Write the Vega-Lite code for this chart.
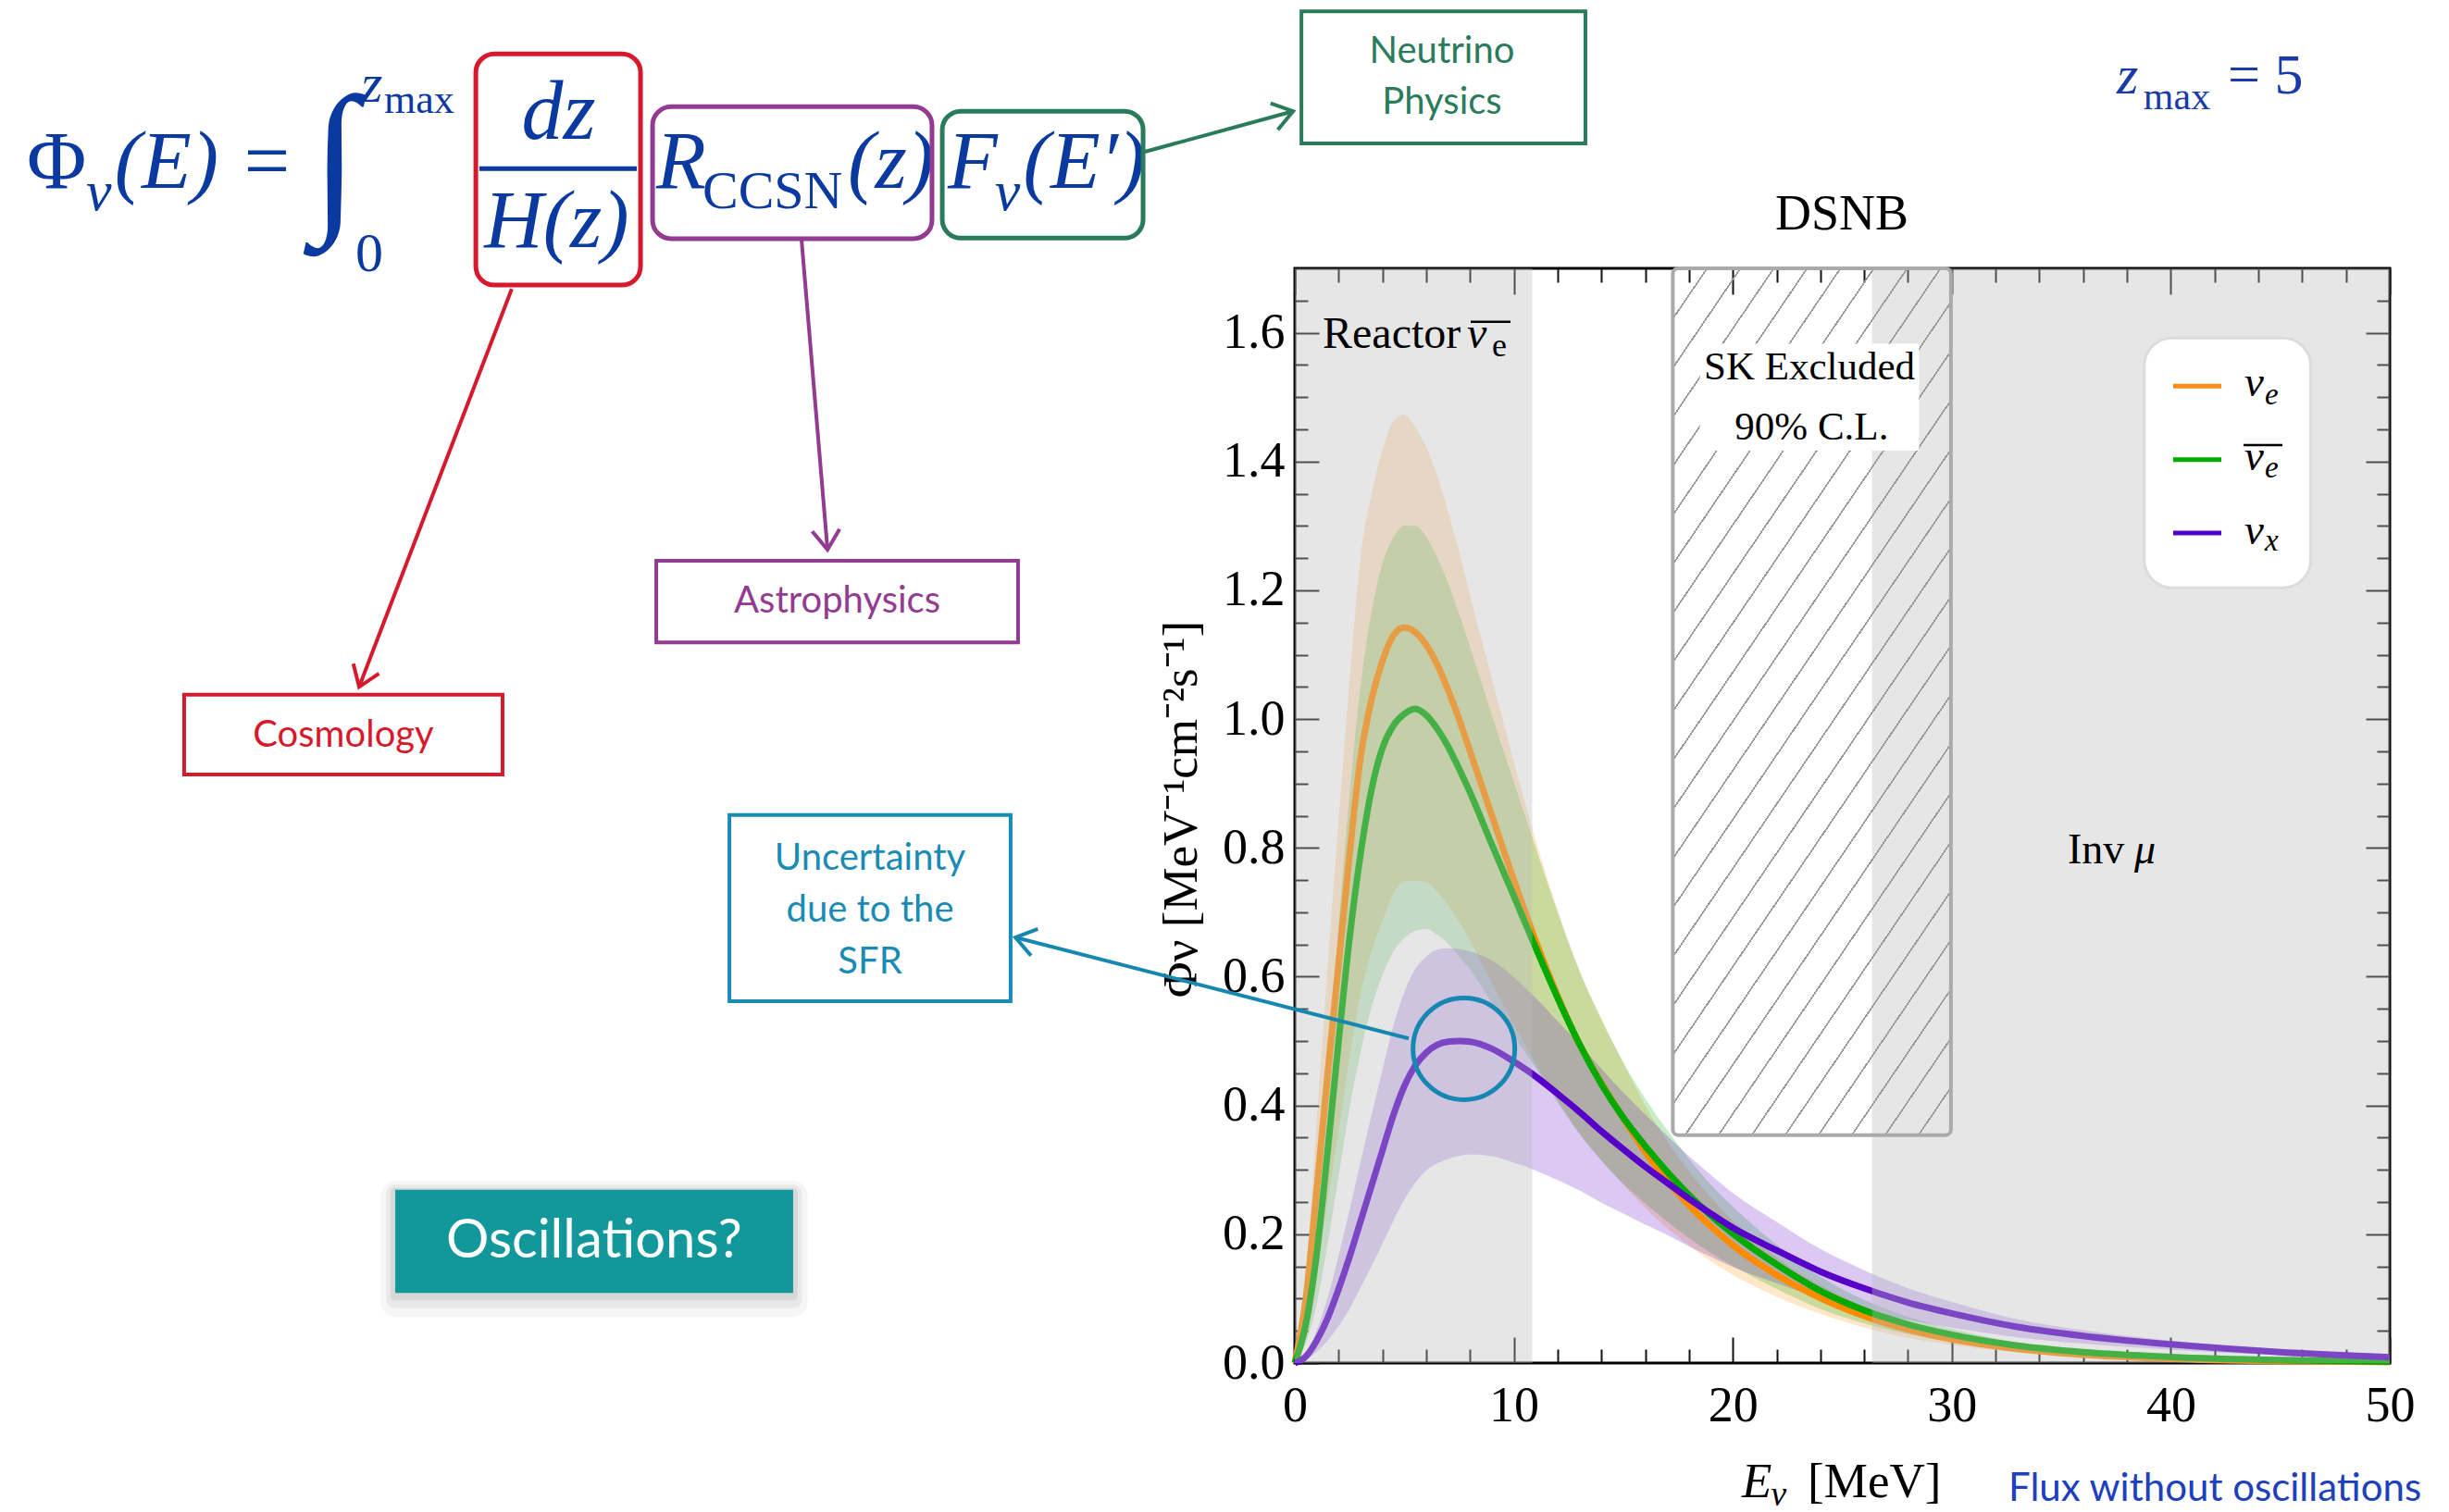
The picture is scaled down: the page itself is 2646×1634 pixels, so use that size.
{
  "$schema": "https://vega.github.io/schema/vega-lite/v6.json",
  "width": 1183,
  "height": 1183,
  "autosize": {"type": "none"},
  "padding": {"left": 1399, "top": 290, "right": 64, "bottom": 161},
  "background": "white",
  "data": {"values": [{}]},
  "config": {
    "view": {"stroke": "#000", "strokeWidth": 3},
    "axis": {"domain": false, "grid": false, "tickColor": "#111", "tickWidth": 2, "labelFont": "Liberation Serif", "labelFontSize": 54, "labelColor": "#000", "labelFlush": false, "labelOverlap": false}
  },
  "resolve": {"axis": {"x": "independent", "y": "independent"}},
  "datasets": {
    "curves": [
      {"E":0,"species":"nu_e","flux":0,"lo":0,"hi":0},
      {"E":0.5,"species":"nu_e","flux":0.10,"lo":0.052,"hi":0.14},
      {"E":1,"species":"nu_e","flux":0.27,"lo":0.146,"hi":0.375},
      {"E":1.5,"species":"nu_e","flux":0.45,"lo":0.252,"hi":0.617},
      {"E":2,"species":"nu_e","flux":0.62,"lo":0.360,"hi":0.843},
      {"E":2.5,"species":"nu_e","flux":0.79,"lo":0.474,"hi":1.059},
      {"E":3,"species":"nu_e","flux":0.94,"lo":0.573,"hi":1.250},
      {"E":3.5,"species":"nu_e","flux":1.03,"lo":0.639,"hi":1.349},
      {"E":4,"species":"nu_e","flux":1.09,"lo":0.687,"hi":1.417},
      {"E":4.5,"species":"nu_e","flux":1.13,"lo":0.729,"hi":1.463},
      {"E":5,"species":"nu_e","flux":1.142,"lo":0.748,"hi":1.473},
      {"E":5.5,"species":"nu_e","flux":1.135,"lo":0.749,"hi":1.453},
      {"E":6,"species":"nu_e","flux":1.115,"lo":0.747,"hi":1.422},
      {"E":6.5,"species":"nu_e","flux":1.085,"lo":0.732,"hi":1.378},
      {"E":7,"species":"nu_e","flux":1.045,"lo":0.711,"hi":1.322},
      {"E":7.5,"species":"nu_e","flux":1.0,"lo":0.685,"hi":1.260},
      {"E":8,"species":"nu_e","flux":0.95,"lo":0.656,"hi":1.192},
      {"E":9,"species":"nu_e","flux":0.85,"lo":0.591,"hi":1.063},
      {"E":10,"species":"nu_e","flux":0.75,"lo":0.525,"hi":0.934},
      {"E":11,"species":"nu_e","flux":0.655,"lo":0.465,"hi":0.812},
      {"E":12,"species":"nu_e","flux":0.57,"lo":0.408,"hi":0.704},
      {"E":13,"species":"nu_e","flux":0.495,"lo":0.356,"hi":0.609},
      {"E":14,"species":"nu_e","flux":0.435,"lo":0.315,"hi":0.535},
      {"E":15,"species":"nu_e","flux":0.38,"lo":0.277,"hi":0.466},
      {"E":16,"species":"nu_e","flux":0.328,"lo":0.241,"hi":0.400},
      {"E":17,"species":"nu_e","flux":0.283,"lo":0.209,"hi":0.345},
      {"E":18,"species":"nu_e","flux":0.245,"lo":0.183,"hi":0.298},
      {"E":19,"species":"nu_e","flux":0.212,"lo":0.158,"hi":0.257},
      {"E":20,"species":"nu_e","flux":0.183,"lo":0.137,"hi":0.221},
      {"E":22,"species":"nu_e","flux":0.137,"lo":0.103,"hi":0.164},
      {"E":24,"species":"nu_e","flux":0.101,"lo":0.076,"hi":0.121},
      {"E":26,"species":"nu_e","flux":0.073,"lo":0.055,"hi":0.088},
      {"E":28,"species":"nu_e","flux":0.052,"lo":0.039,"hi":0.062},
      {"E":30,"species":"nu_e","flux":0.037,"lo":0.028,"hi":0.044},
      {"E":33,"species":"nu_e","flux":0.022,"lo":0.0165,"hi":0.026},
      {"E":36,"species":"nu_e","flux":0.013,"lo":0.0098,"hi":0.0156},
      {"E":40,"species":"nu_e","flux":0.0065,"lo":0.0049,"hi":0.0078},
      {"E":45,"species":"nu_e","flux":0.003,"lo":0.0023,"hi":0.0036},
      {"E":50,"species":"nu_e","flux":0.0015,"lo":0.0011,"hi":0.0018},
      {"E":0,"species":"nubar_e","flux":0,"lo":0,"hi":0},
      {"E":0.5,"species":"nubar_e","flux":0.06,"lo":0.031,"hi":0.084},
      {"E":1,"species":"nubar_e","flux":0.17,"lo":0.092,"hi":0.236},
      {"E":1.5,"species":"nubar_e","flux":0.33,"lo":0.185,"hi":0.452},
      {"E":2,"species":"nubar_e","flux":0.50,"lo":0.290,"hi":0.680},
      {"E":2.5,"species":"nubar_e","flux":0.66,"lo":0.396,"hi":0.884},
      {"E":3,"species":"nubar_e","flux":0.79,"lo":0.482,"hi":1.051},
      {"E":3.5,"species":"nubar_e","flux":0.89,"lo":0.552,"hi":1.166},
      {"E":4,"species":"nubar_e","flux":0.955,"lo":0.602,"hi":1.242},
      {"E":4.5,"species":"nubar_e","flux":0.99,"lo":0.639,"hi":1.282},
      {"E":5,"species":"nubar_e","flux":1.008,"lo":0.660,"hi":1.300},
      {"E":5.5,"species":"nubar_e","flux":1.016,"lo":0.671,"hi":1.300},
      {"E":6,"species":"nubar_e","flux":1.006,"lo":0.674,"hi":1.283},
      {"E":6.5,"species":"nubar_e","flux":0.985,"lo":0.665,"hi":1.251},
      {"E":7,"species":"nubar_e","flux":0.957,"lo":0.651,"hi":1.211},
      {"E":7.5,"species":"nubar_e","flux":0.923,"lo":0.632,"hi":1.163},
      {"E":8,"species":"nubar_e","flux":0.886,"lo":0.611,"hi":1.112},
      {"E":9,"species":"nubar_e","flux":0.805,"lo":0.559,"hi":1.006},
      {"E":10,"species":"nubar_e","flux":0.725,"lo":0.508,"hi":0.903},
      {"E":11,"species":"nubar_e","flux":0.645,"lo":0.458,"hi":0.800},
      {"E":12,"species":"nubar_e","flux":0.567,"lo":0.405,"hi":0.700},
      {"E":13,"species":"nubar_e","flux":0.495,"lo":0.356,"hi":0.609},
      {"E":14,"species":"nubar_e","flux":0.433,"lo":0.314,"hi":0.533},
      {"E":15,"species":"nubar_e","flux":0.381,"lo":0.278,"hi":0.467},
      {"E":16,"species":"nubar_e","flux":0.337,"lo":0.248,"hi":0.411},
      {"E":17,"species":"nubar_e","flux":0.297,"lo":0.220,"hi":0.362},
      {"E":18,"species":"nubar_e","flux":0.261,"lo":0.194,"hi":0.317},
      {"E":19,"species":"nubar_e","flux":0.229,"lo":0.171,"hi":0.277},
      {"E":20,"species":"nubar_e","flux":0.201,"lo":0.151,"hi":0.243},
      {"E":22,"species":"nubar_e","flux":0.153,"lo":0.115,"hi":0.184},
      {"E":24,"species":"nubar_e","flux":0.112,"lo":0.084,"hi":0.134},
      {"E":26,"species":"nubar_e","flux":0.082,"lo":0.0615,"hi":0.098},
      {"E":28,"species":"nubar_e","flux":0.060,"lo":0.045,"hi":0.072},
      {"E":30,"species":"nubar_e","flux":0.044,"lo":0.033,"hi":0.053},
      {"E":33,"species":"nubar_e","flux":0.027,"lo":0.020,"hi":0.032},
      {"E":36,"species":"nubar_e","flux":0.017,"lo":0.0128,"hi":0.020},
      {"E":40,"species":"nubar_e","flux":0.0095,"lo":0.0071,"hi":0.0114},
      {"E":45,"species":"nubar_e","flux":0.0045,"lo":0.0034,"hi":0.0054},
      {"E":50,"species":"nubar_e","flux":0.002,"lo":0.0015,"hi":0.0024},
      {"E":0,"species":"nu_x","flux":0,"lo":0,"hi":0},
      {"E":0.5,"species":"nu_x","flux":0.01,"lo":0.005,"hi":0.0145},
      {"E":1,"species":"nu_x","flux":0.035,"lo":0.0175,"hi":0.051},
      {"E":1.5,"species":"nu_x","flux":0.07,"lo":0.035,"hi":0.1015},
      {"E":2,"species":"nu_x","flux":0.115,"lo":0.0575,"hi":0.167},
      {"E":2.5,"species":"nu_x","flux":0.165,"lo":0.084,"hi":0.238},
      {"E":3,"species":"nu_x","flux":0.22,"lo":0.117,"hi":0.312},
      {"E":3.5,"species":"nu_x","flux":0.275,"lo":0.150,"hi":0.385},
      {"E":4,"species":"nu_x","flux":0.33,"lo":0.185,"hi":0.455},
      {"E":4.5,"species":"nu_x","flux":0.385,"lo":0.221,"hi":0.524},
      {"E":5,"species":"nu_x","flux":0.43,"lo":0.254,"hi":0.576},
      {"E":5.5,"species":"nu_x","flux":0.462,"lo":0.280,"hi":0.612},
      {"E":6,"species":"nu_x","flux":0.482,"lo":0.299,"hi":0.631},
      {"E":6.5,"species":"nu_x","flux":0.494,"lo":0.310,"hi":0.642},
      {"E":7,"species":"nu_x","flux":0.499,"lo":0.317,"hi":0.644},
      {"E":7.5,"species":"nu_x","flux":0.500,"lo":0.3215,"hi":0.643},
      {"E":8,"species":"nu_x","flux":0.499,"lo":0.324,"hi":0.639},
      {"E":9,"species":"nu_x","flux":0.488,"lo":0.321,"hi":0.625},
      {"E":10,"species":"nu_x","flux":0.468,"lo":0.311,"hi":0.599},
      {"E":11,"species":"nu_x","flux":0.445,"lo":0.299,"hi":0.567},
      {"E":12,"species":"nu_x","flux":0.418,"lo":0.284,"hi":0.531},
      {"E":13,"species":"nu_x","flux":0.39,"lo":0.268,"hi":0.495},
      {"E":14,"species":"nu_x","flux":0.36,"lo":0.249,"hi":0.457},
      {"E":15,"species":"nu_x","flux":0.332,"lo":0.232,"hi":0.420},
      {"E":16,"species":"nu_x","flux":0.305,"lo":0.215,"hi":0.386},
      {"E":17,"species":"nu_x","flux":0.28,"lo":0.199,"hi":0.353},
      {"E":18,"species":"nu_x","flux":0.255,"lo":0.181,"hi":0.321},
      {"E":19,"species":"nu_x","flux":0.232,"lo":0.165,"hi":0.292},
      {"E":20,"species":"nu_x","flux":0.21,"lo":0.149,"hi":0.264},
      {"E":22,"species":"nu_x","flux":0.175,"lo":0.124,"hi":0.219},
      {"E":24,"species":"nu_x","flux":0.142,"lo":0.101,"hi":0.177},
      {"E":26,"species":"nu_x","flux":0.116,"lo":0.082,"hi":0.144},
      {"E":28,"species":"nu_x","flux":0.094,"lo":0.067,"hi":0.116},
      {"E":30,"species":"nu_x","flux":0.077,"lo":0.055,"hi":0.095},
      {"E":33,"species":"nu_x","flux":0.056,"lo":0.040,"hi":0.068},
      {"E":36,"species":"nu_x","flux":0.042,"lo":0.030,"hi":0.051},
      {"E":40,"species":"nu_x","flux":0.029,"lo":0.0206,"hi":0.035},
      {"E":45,"species":"nu_x","flux":0.017,"lo":0.0121,"hi":0.0204},
      {"E":50,"species":"nu_x","flux":0.009,"lo":0.0064,"hi":0.0108}
    ],
    "regions": [
      {"name": "Reactor", "start": 0, "end": 10.84},
      {"name": "Inv mu", "start": 26.36, "end": 50}
    ],
    "sk": [
      {"name": "SK Excluded", "start": 17.26, "end": 29.96, "lower": 0.354}
    ]
  },
  "layer": [
    {
      "data": {"name": "curves"},
      "mark": {"type": "area", "interpolate": "monotone", "opacity": 0.21},
      "encoding": {
        "x": {"field": "E", "type": "quantitative", "scale": {"domain": [0, 50], "nice": false, "zero": false},
              "axis": {"orient": "bottom", "values": [0, 10, 20, 30, 40, 50], "format": "d", "tickSize": -28, "labelPadding": 47, "title": null}},
        "y": {"field": "hi", "type": "quantitative", "stack": null, "scale": {"domain": [0, 1.7], "nice": false, "zero": false},
              "axis": {"orient": "left", "values": [0, 0.2, 0.4, 0.6, 0.8, 1.0, 1.2, 1.4, 1.6], "format": ".1f", "tickSize": -26, "labelPadding": 37, "title": null}},
        "y2": {"field": "lo"},
        "color": {"field": "species", "type": "nominal", "scale": {"domain": ["nu_e", "nubar_e", "nu_x"], "range": ["#ff8c00", "#00aa00", "#5600c9"]}, "legend": null}
      }
    },
    {
      "data": {"name": "curves"},
      "mark": {"type": "line", "interpolate": "monotone", "strokeWidth": 7},
      "encoding": {
        "x": {"field": "E", "type": "quantitative", "scale": {"domain": [0, 50], "nice": false, "zero": false},
              "axis": {"orient": "top", "values": [0, 10, 20, 30, 40, 50], "tickSize": -28, "labels": false, "title": null}},
        "y": {"field": "flux", "type": "quantitative", "scale": {"domain": [0, 1.7], "nice": false, "zero": false},
              "axis": {"orient": "right", "values": [0, 0.2, 0.4, 0.6, 0.8, 1.0, 1.2, 1.4, 1.6], "tickSize": -26, "labels": false, "title": null}},
        "color": {"field": "species", "type": "nominal", "legend": null}
      }
    },
    {
      "data": {"name": "regions"},
      "mark": {"type": "rect", "fill": "#bbbbbb", "opacity": 0.37},
      "encoding": {
        "x": {"field": "start", "type": "quantitative",
              "axis": {"orient": "bottom", "values": [2, 4, 6, 8, 12, 14, 16, 18, 22, 24, 26, 28, 32, 34, 36, 38, 42, 44, 46, 48], "tickSize": -15, "labels": false, "title": null}},
        "x2": {"field": "end"},
        "y": {"datum": 0, "type": "quantitative",
              "axis": {"orient": "left", "values": [0.05, 0.1, 0.15, 0.25, 0.3, 0.35, 0.45, 0.5, 0.55, 0.65, 0.7, 0.75, 0.85, 0.9, 0.95, 1.05, 1.1, 1.15, 1.25, 1.3, 1.35, 1.45, 1.5, 1.55, 1.65], "tickSize": -14, "labels": false, "title": null}},
        "y2": {"datum": 1.7}
      }
    },
    {
      "data": {"name": "sk"},
      "mark": {"type": "rect", "stroke": "#aaaaaa", "strokeWidth": 4, "cornerRadius": 6,
        "fill": {"gradient": "linear", "x1": 0, "y1": 0, "x2": 0.5685, "y2": 1.2038, "stops": [
          {"offset": 0, "color": "#9a9a9a"}, {"offset": 0.0022, "color": "#9a9a9a"}, {"offset": 0.0022, "color": "rgba(255,255,255,0)"}, {"offset": 0.03846, "color": "rgba(255,255,255,0)"},
          {"offset": 0.03846, "color": "#9a9a9a"}, {"offset": 0.04066, "color": "#9a9a9a"}, {"offset": 0.04066, "color": "rgba(255,255,255,0)"}, {"offset": 0.07692, "color": "rgba(255,255,255,0)"},
          {"offset": 0.07692, "color": "#9a9a9a"}, {"offset": 0.07912, "color": "#9a9a9a"}, {"offset": 0.07912, "color": "rgba(255,255,255,0)"}, {"offset": 0.11538, "color": "rgba(255,255,255,0)"},
          {"offset": 0.11538, "color": "#9a9a9a"}, {"offset": 0.11758, "color": "#9a9a9a"}, {"offset": 0.11758, "color": "rgba(255,255,255,0)"}, {"offset": 0.15385, "color": "rgba(255,255,255,0)"},
          {"offset": 0.15385, "color": "#9a9a9a"}, {"offset": 0.15605, "color": "#9a9a9a"}, {"offset": 0.15605, "color": "rgba(255,255,255,0)"}, {"offset": 0.19231, "color": "rgba(255,255,255,0)"},
          {"offset": 0.19231, "color": "#9a9a9a"}, {"offset": 0.19451, "color": "#9a9a9a"}, {"offset": 0.19451, "color": "rgba(255,255,255,0)"}, {"offset": 0.23077, "color": "rgba(255,255,255,0)"},
          {"offset": 0.23077, "color": "#9a9a9a"}, {"offset": 0.23297, "color": "#9a9a9a"}, {"offset": 0.23297, "color": "rgba(255,255,255,0)"}, {"offset": 0.26923, "color": "rgba(255,255,255,0)"},
          {"offset": 0.26923, "color": "#9a9a9a"}, {"offset": 0.27143, "color": "#9a9a9a"}, {"offset": 0.27143, "color": "rgba(255,255,255,0)"}, {"offset": 0.30769, "color": "rgba(255,255,255,0)"},
          {"offset": 0.30769, "color": "#9a9a9a"}, {"offset": 0.30989, "color": "#9a9a9a"}, {"offset": 0.30989, "color": "rgba(255,255,255,0)"}, {"offset": 0.34615, "color": "rgba(255,255,255,0)"},
          {"offset": 0.34615, "color": "#9a9a9a"}, {"offset": 0.34835, "color": "#9a9a9a"}, {"offset": 0.34835, "color": "rgba(255,255,255,0)"}, {"offset": 0.38462, "color": "rgba(255,255,255,0)"},
          {"offset": 0.38462, "color": "#9a9a9a"}, {"offset": 0.38682, "color": "#9a9a9a"}, {"offset": 0.38682, "color": "rgba(255,255,255,0)"}, {"offset": 0.42308, "color": "rgba(255,255,255,0)"},
          {"offset": 0.42308, "color": "#9a9a9a"}, {"offset": 0.42528, "color": "#9a9a9a"}, {"offset": 0.42528, "color": "rgba(255,255,255,0)"}, {"offset": 0.46154, "color": "rgba(255,255,255,0)"},
          {"offset": 0.46154, "color": "#9a9a9a"}, {"offset": 0.46374, "color": "#9a9a9a"}, {"offset": 0.46374, "color": "rgba(255,255,255,0)"}, {"offset": 0.5, "color": "rgba(255,255,255,0)"},
          {"offset": 0.5, "color": "#9a9a9a"}, {"offset": 0.5022, "color": "#9a9a9a"}, {"offset": 0.5022, "color": "rgba(255,255,255,0)"}, {"offset": 0.53846, "color": "rgba(255,255,255,0)"},
          {"offset": 0.53846, "color": "#9a9a9a"}, {"offset": 0.54066, "color": "#9a9a9a"}, {"offset": 0.54066, "color": "rgba(255,255,255,0)"}, {"offset": 0.57692, "color": "rgba(255,255,255,0)"},
          {"offset": 0.57692, "color": "#9a9a9a"}, {"offset": 0.57912, "color": "#9a9a9a"}, {"offset": 0.57912, "color": "rgba(255,255,255,0)"}, {"offset": 0.61538, "color": "rgba(255,255,255,0)"},
          {"offset": 0.61538, "color": "#9a9a9a"}, {"offset": 0.61758, "color": "#9a9a9a"}, {"offset": 0.61758, "color": "rgba(255,255,255,0)"}, {"offset": 0.65385, "color": "rgba(255,255,255,0)"},
          {"offset": 0.65385, "color": "#9a9a9a"}, {"offset": 0.65605, "color": "#9a9a9a"}, {"offset": 0.65605, "color": "rgba(255,255,255,0)"}, {"offset": 0.69231, "color": "rgba(255,255,255,0)"},
          {"offset": 0.69231, "color": "#9a9a9a"}, {"offset": 0.69451, "color": "#9a9a9a"}, {"offset": 0.69451, "color": "rgba(255,255,255,0)"}, {"offset": 0.73077, "color": "rgba(255,255,255,0)"},
          {"offset": 0.73077, "color": "#9a9a9a"}, {"offset": 0.73297, "color": "#9a9a9a"}, {"offset": 0.73297, "color": "rgba(255,255,255,0)"}, {"offset": 0.76923, "color": "rgba(255,255,255,0)"},
          {"offset": 0.76923, "color": "#9a9a9a"}, {"offset": 0.77143, "color": "#9a9a9a"}, {"offset": 0.77143, "color": "rgba(255,255,255,0)"}, {"offset": 0.80769, "color": "rgba(255,255,255,0)"},
          {"offset": 0.80769, "color": "#9a9a9a"}, {"offset": 0.80989, "color": "#9a9a9a"}, {"offset": 0.80989, "color": "rgba(255,255,255,0)"}, {"offset": 0.84615, "color": "rgba(255,255,255,0)"},
          {"offset": 0.84615, "color": "#9a9a9a"}, {"offset": 0.84835, "color": "#9a9a9a"}, {"offset": 0.84835, "color": "rgba(255,255,255,0)"}, {"offset": 0.88462, "color": "rgba(255,255,255,0)"},
          {"offset": 0.88462, "color": "#9a9a9a"}, {"offset": 0.88682, "color": "#9a9a9a"}, {"offset": 0.88682, "color": "rgba(255,255,255,0)"}, {"offset": 0.92308, "color": "rgba(255,255,255,0)"},
          {"offset": 0.92308, "color": "#9a9a9a"}, {"offset": 0.92528, "color": "#9a9a9a"}, {"offset": 0.92528, "color": "rgba(255,255,255,0)"}, {"offset": 0.96154, "color": "rgba(255,255,255,0)"},
          {"offset": 0.96154, "color": "#9a9a9a"}, {"offset": 0.96374, "color": "#9a9a9a"}, {"offset": 0.96374, "color": "rgba(255,255,255,0)"}, {"offset": 1, "color": "rgba(255,255,255,0)"}
        ]}},
      "encoding": {
        "x": {"field": "start", "type": "quantitative",
              "axis": {"orient": "top", "values": [2, 4, 6, 8, 12, 14, 16, 18, 22, 24, 26, 28, 32, 34, 36, 38, 42, 44, 46, 48], "tickSize": -15, "labels": false, "title": null}},
        "x2": {"field": "end"},
        "y": {"field": "lower", "type": "quantitative",
              "axis": {"orient": "right", "values": [0.05, 0.1, 0.15, 0.25, 0.3, 0.35, 0.45, 0.5, 0.55, 0.65, 0.7, 0.75, 0.85, 0.9, 0.95, 1.05, 1.1, 1.15, 1.25, 1.3, 1.35, 1.45, 1.5, 1.55, 1.65], "tickSize": -14, "labels": false, "title": null}},
        "y2": {"datum": 1.7}
      }
    },
    {"mark": {"type": "rect", "fill": "white"}, "encoding": {"x": {"datum": 18.5, "axis": null}, "x2": {"datum": 28.5}, "y": {"datum": 1.417, "axis": null}, "y2": {"datum": 1.583}}},
    {"mark": {"type": "text", "text": "SK Excluded", "font": "Liberation Serif", "fontSize": 43, "color": "#000", "align": "center", "baseline": "alphabetic"}, "encoding": {"x": {"datum": 23.5, "axis": null}, "y": {"datum": 1.528, "axis": null}}},
    {"mark": {"type": "text", "text": "90% C.L.", "font": "Liberation Serif", "fontSize": 43, "color": "#000", "align": "center", "baseline": "alphabetic"}, "encoding": {"x": {"datum": 23.6, "axis": null}, "y": {"datum": 1.434, "axis": null}}},

    {"mark": {"type": "text", "text": "Reactor", "font": "Liberation Serif", "fontSize": 48, "color": "#000", "align": "left", "baseline": "alphabetic"}, "encoding": {"x": {"datum": 1.27, "axis": null}, "y": {"datum": 1.576, "axis": null}}},
    {"mark": {"type": "text", "text": "ν", "font": "Liberation Serif", "fontStyle": "italic", "fontSize": 48, "color": "#000", "align": "left", "baseline": "alphabetic"}, "encoding": {"x": {"datum": 7.86, "axis": null}, "y": {"datum": 1.576, "axis": null}}},
    {"mark": {"type": "text", "text": "e", "font": "Liberation Serif", "fontSize": 36, "color": "#000", "align": "left", "baseline": "alphabetic"}, "encoding": {"x": {"datum": 9.0, "axis": null}, "y": {"datum": 1.563, "axis": null}}},
    {"mark": {"type": "rule", "color": "#000", "strokeWidth": 2.5}, "encoding": {"x": {"datum": 8.03, "axis": null}, "x2": {"datum": 9.85}, "y": {"datum": 1.617, "axis": null}, "y2": {"datum": 1.617}}},

    {"mark": {"type": "text", "text": "Inv", "font": "Liberation Serif", "fontSize": 46, "color": "#000", "align": "left", "baseline": "alphabetic"}, "encoding": {"x": {"datum": 35.29, "axis": null}, "y": {"datum": 0.776, "axis": null}}},
    {"mark": {"type": "text", "text": "μ", "font": "Liberation Serif", "fontStyle": "italic", "fontSize": 46, "color": "#000", "align": "left", "baseline": "alphabetic"}, "encoding": {"x": {"datum": 38.33, "axis": null}, "y": {"datum": 0.776, "axis": null}}},

    {"mark": {"type": "text", "text": "DSNB", "font": "Liberation Serif", "fontSize": 54, "color": "#000", "align": "center", "baseline": "alphabetic"}, "encoding": {"x": {"datum": 24.98, "axis": null}, "y": {"datum": 1.76, "axis": null}}},

    {"mark": {"type": "rect", "fill": "white", "stroke": "#dcdcdc", "strokeWidth": 3, "cornerRadius": 30}, "encoding": {"x": {"datum": 38.79, "axis": null}, "x2": {"datum": 46.39}, "y": {"datum": 1.592, "axis": null}, "y2": {"datum": 1.204}}},
    {"mark": {"type": "rule", "color": "#ff8c1a", "strokeWidth": 5}, "encoding": {"x": {"datum": 40.11, "axis": null}, "x2": {"datum": 42.31}, "y": {"datum": 1.517, "axis": null}, "y2": {"datum": 1.517}}},
    {"mark": {"type": "rule", "color": "#00aa00", "strokeWidth": 5}, "encoding": {"x": {"datum": 40.11, "axis": null}, "x2": {"datum": 42.31}, "y": {"datum": 1.403, "axis": null}, "y2": {"datum": 1.403}}},
    {"mark": {"type": "rule", "color": "#5500c8", "strokeWidth": 5}, "encoding": {"x": {"datum": 40.11, "axis": null}, "x2": {"datum": 42.31}, "y": {"datum": 1.289, "axis": null}, "y2": {"datum": 1.289}}},
    {"mark": {"type": "text", "text": "ν", "font": "Liberation Serif", "fontStyle": "italic", "fontSize": 47, "color": "#000", "align": "left", "baseline": "alphabetic"}, "encoding": {"x": {"datum": 43.36, "axis": null}, "y": {"datum": 1.502, "axis": null}}},
    {"mark": {"type": "text", "text": "e", "font": "Liberation Serif", "fontStyle": "italic", "fontSize": 33, "color": "#000", "align": "left", "baseline": "alphabetic"}, "encoding": {"x": {"datum": 44.29, "axis": null}, "y": {"datum": 1.489, "axis": null}}},
    {"mark": {"type": "text", "text": "ν", "font": "Liberation Serif", "fontStyle": "italic", "fontSize": 47, "color": "#000", "align": "left", "baseline": "alphabetic"}, "encoding": {"x": {"datum": 43.36, "axis": null}, "y": {"datum": 1.387, "axis": null}}},
    {"mark": {"type": "text", "text": "e", "font": "Liberation Serif", "fontStyle": "italic", "fontSize": 33, "color": "#000", "align": "left", "baseline": "alphabetic"}, "encoding": {"x": {"datum": 44.29, "axis": null}, "y": {"datum": 1.375, "axis": null}}},
    {"mark": {"type": "rule", "color": "#000", "strokeWidth": 2.5}, "encoding": {"x": {"datum": 43.32, "axis": null}, "x2": {"datum": 45.1}, "y": {"datum": 1.4255, "axis": null}, "y2": {"datum": 1.4255}}},
    {"mark": {"type": "text", "text": "ν", "font": "Liberation Serif", "fontStyle": "italic", "fontSize": 47, "color": "#000", "align": "left", "baseline": "alphabetic"}, "encoding": {"x": {"datum": 43.36, "axis": null}, "y": {"datum": 1.272, "axis": null}}},
    {"mark": {"type": "text", "text": "x", "font": "Liberation Serif", "fontStyle": "italic", "fontSize": 33, "color": "#000", "align": "left", "baseline": "alphabetic"}, "encoding": {"x": {"datum": 44.29, "axis": null}, "y": {"datum": 1.262, "axis": null}}},

    {"mark": {"type": "text", "text": "E", "font": "Liberation Serif", "fontStyle": "italic", "fontSize": 53, "color": "#000", "align": "left", "baseline": "alphabetic"}, "encoding": {"x": {"datum": 20.41, "axis": null}, "y": {"datum": -0.208, "axis": null}}},
    {"mark": {"type": "text", "text": "ν", "font": "Liberation Serif", "fontStyle": "italic", "fontSize": 38, "color": "#000", "align": "left", "baseline": "alphabetic"}, "encoding": {"x": {"datum": 21.73, "axis": null}, "y": {"datum": -0.222, "axis": null}}},
    {"mark": {"type": "text", "text": "[MeV]", "font": "Liberation Serif", "fontSize": 53, "color": "#000", "align": "left", "baseline": "alphabetic"}, "encoding": {"x": {"datum": 23.42, "axis": null}, "y": {"datum": -0.208, "axis": null}}},
    {"mark": {"type": "text", "text": "Φν [MeV⁻¹cm⁻²s⁻¹]", "font": "Liberation Serif", "fontSize": 53, "color": "#000", "align": "center", "baseline": "middle", "angle": 270}, "encoding": {"x": {"datum": -5.16, "axis": null}, "y": {"datum": 0.86, "axis": null}}},
    {"mark": {"type": "text", "text": "Flux without oscillations", "font": "Lato", "fontSize": 42, "color": "#2040bb", "align": "right", "baseline": "alphabetic"}, "encoding": {"x": {"datum": 51.44, "axis": null}, "y": {"datum": -0.214, "axis": null}}},

    {"mark": {"type": "text", "text": "z", "font": "Liberation Serif", "fontStyle": "italic", "fontSize": 60, "color": "#1a3aa8", "align": "left", "baseline": "alphabetic"}, "encoding": {"x": {"datum": 37.53, "axis": null}, "y": {"datum": 1.972, "axis": null}}},
    {"mark": {"type": "text", "text": "max", "font": "Liberation Serif", "fontSize": 42, "color": "#1a3aa8", "align": "left", "baseline": "alphabetic"}, "encoding": {"x": {"datum": 38.75, "axis": null}, "y": {"datum": 1.947, "axis": null}}},
    {"mark": {"type": "text", "text": "= 5", "font": "Liberation Serif", "fontSize": 62, "color": "#1a3aa8", "align": "left", "baseline": "alphabetic"}, "encoding": {"x": {"datum": 42.6, "axis": null}, "y": {"datum": 1.972, "axis": null}}},

    {"mark": {"type": "text", "text": "Φ", "font": "Liberation Serif", "fontSize": 88, "color": "#0a3aa0", "align": "left", "baseline": "alphabetic"}, "encoding": {"x": {"datum": -57.9, "axis": null}, "y": {"datum": 1.825, "axis": null}}},
    {"mark": {"type": "text", "text": "ν", "font": "Liberation Serif", "fontStyle": "italic", "fontSize": 62, "color": "#0a3aa0", "align": "left", "baseline": "alphabetic"}, "encoding": {"x": {"datum": -55.2, "axis": null}, "y": {"datum": 1.79, "axis": null}}},
    {"mark": {"type": "text", "text": "(E) =", "font": "Liberation Serif", "fontStyle": "italic", "fontSize": 88, "color": "#0a3aa0", "align": "left", "baseline": "alphabetic"}, "encoding": {"x": {"datum": -53.9, "axis": null}, "y": {"datum": 1.825, "axis": null}}},
    {"mark": {"type": "text", "text": "∫", "font": "Liberation Serif", "fontSize": 180, "color": "#0a3aa0", "align": "center", "baseline": "alphabetic"}, "encoding": {"x": {"datum": -43.83, "axis": null}, "y": {"datum": 1.787, "axis": null}}},
    {"mark": {"type": "text", "text": "z", "font": "Liberation Serif", "fontStyle": "italic", "fontSize": 60, "color": "#0a3aa0", "align": "left", "baseline": "alphabetic"}, "encoding": {"x": {"datum": -42.65, "axis": null}, "y": {"datum": 1.959, "axis": null}}},
    {"mark": {"type": "text", "text": "max", "font": "Liberation Serif", "fontSize": 44, "color": "#0a3aa0", "align": "left", "baseline": "alphabetic"}, "encoding": {"x": {"datum": -41.59, "axis": null}, "y": {"datum": 1.941, "axis": null}}},
    {"mark": {"type": "text", "text": "0", "font": "Liberation Serif", "fontSize": 60, "color": "#0a3aa0", "align": "left", "baseline": "alphabetic"}, "encoding": {"x": {"datum": -42.9, "axis": null}, "y": {"datum": 1.696, "axis": null}}},
    {"mark": {"type": "text", "text": "dz", "font": "Liberation Serif", "fontStyle": "italic", "fontSize": 90, "color": "#0a3aa0", "align": "center", "baseline": "alphabetic"}, "encoding": {"x": {"datum": -33.62, "axis": null}, "y": {"datum": 1.901, "axis": null}}},
    {"mark": {"type": "rule", "color": "#0a3aa0", "strokeWidth": 5}, "encoding": {"x": {"datum": -37.24, "axis": null}, "x2": {"datum": -30.05}, "y": {"datum": 1.855, "axis": null}, "y2": {"datum": 1.855}}},
    {"mark": {"type": "text", "text": "H(z)", "font": "Liberation Serif", "fontStyle": "italic", "fontSize": 88, "color": "#0a3aa0", "align": "center", "baseline": "alphabetic"}, "encoding": {"x": {"datum": -33.71, "axis": null}, "y": {"datum": 1.733, "axis": null}}},
    {"mark": {"type": "text", "text": "R", "font": "Liberation Serif", "fontStyle": "italic", "fontSize": 88, "color": "#0a3aa0", "align": "left", "baseline": "alphabetic"}, "encoding": {"x": {"datum": -29.16, "axis": null}, "y": {"datum": 1.825, "axis": null}}},
    {"mark": {"type": "text", "text": "CCSN", "font": "Liberation Serif", "fontSize": 58, "color": "#0a3aa0", "align": "left", "baseline": "alphabetic"}, "encoding": {"x": {"datum": -27.05, "axis": null}, "y": {"datum": 1.793, "axis": null}}},
    {"mark": {"type": "text", "text": "(z)", "font": "Liberation Serif", "fontStyle": "italic", "fontSize": 88, "color": "#0a3aa0", "align": "left", "baseline": "alphabetic"}, "encoding": {"x": {"datum": -20.41, "axis": null}, "y": {"datum": 1.825, "axis": null}}},
    {"mark": {"type": "text", "text": "F", "font": "Liberation Serif", "fontStyle": "italic", "fontSize": 88, "color": "#0a3aa0", "align": "left", "baseline": "alphabetic"}, "encoding": {"x": {"datum": -15.85, "axis": null}, "y": {"datum": 1.825, "axis": null}}},
    {"mark": {"type": "text", "text": "ν", "font": "Liberation Serif", "fontStyle": "italic", "fontSize": 62, "color": "#0a3aa0", "align": "left", "baseline": "alphabetic"}, "encoding": {"x": {"datum": -13.7, "axis": null}, "y": {"datum": 1.79, "axis": null}}},
    {"mark": {"type": "text", "text": "(E′)", "font": "Liberation Serif", "fontStyle": "italic", "fontSize": 88, "color": "#0a3aa0", "align": "left", "baseline": "alphabetic"}, "encoding": {"x": {"datum": -12.4, "axis": null}, "y": {"datum": 1.825, "axis": null}}},

    {"mark": {"type": "rect", "fillOpacity": 0, "stroke": "#d7192d", "strokeWidth": 5, "cornerRadius": 20}, "encoding": {"x": {"datum": -37.4, "axis": null}, "x2": {"datum": -29.88}, "y": {"datum": 2.033, "axis": null}, "y2": {"datum": 1.674}}},
    {"mark": {"type": "rect", "fillOpacity": 0, "stroke": "#933a91", "strokeWidth": 5, "cornerRadius": 20}, "encoding": {"x": {"datum": -29.33, "axis": null}, "x2": {"datum": -16.57}, "y": {"datum": 1.951, "axis": null}, "y2": {"datum": 1.746}}},
    {"mark": {"type": "rect", "fillOpacity": 0, "stroke": "#2a7b5b", "strokeWidth": 5, "cornerRadius": 20}, "encoding": {"x": {"datum": -16.1, "axis": null}, "x2": {"datum": -6.93}, "y": {"datum": 1.944, "axis": null}, "y2": {"datum": 1.747}}},

    {"mark": {"type": "rule", "color": "#2a7b5b", "strokeWidth": 4}, "encoding": {"x": {"datum": -6.85, "axis": null}, "x2": {"datum": -0.08}, "y": {"datum": 1.881, "axis": null}, "y2": {"datum": 1.944}}},
    {"mark": {"type": "point", "shape": "M -1 -0.7 L 0 0 L -1 0.7", "size": 1800, "filled": false, "stroke": "#2a7b5b", "strokeWidth": 4, "opacity": 1, "angle": -15.4}, "encoding": {"x": {"datum": -0.08, "axis": null}, "y": {"datum": 1.944, "axis": null}}},
    {"mark": {"type": "rule", "color": "#933a91", "strokeWidth": 4}, "encoding": {"x": {"datum": -22.53, "axis": null}, "x2": {"datum": -21.34}, "y": {"datum": 1.746, "axis": null}, "y2": {"datum": 1.263}}},
    {"mark": {"type": "point", "shape": "M -1 -0.7 L 0 0 L -1 0.7", "size": 1800, "filled": false, "stroke": "#933a91", "strokeWidth": 4, "opacity": 1, "angle": 85.2}, "encoding": {"x": {"datum": -21.34, "axis": null}, "y": {"datum": 1.263, "axis": null}}},
    {"mark": {"type": "rule", "color": "#d7192d", "strokeWidth": 4}, "encoding": {"x": {"datum": -35.76, "axis": null}, "x2": {"datum": -42.73}, "y": {"datum": 1.668, "axis": null}, "y2": {"datum": 1.05}}},
    {"mark": {"type": "point", "shape": "M -1 -0.7 L 0 0 L -1 0.7", "size": 1800, "filled": false, "stroke": "#d7192d", "strokeWidth": 4, "opacity": 1, "angle": 111}, "encoding": {"x": {"datum": -42.73, "axis": null}, "y": {"datum": 1.05, "axis": null}}},

    {"mark": {"type": "rect", "fillOpacity": 0, "stroke": "#2a7b5b", "strokeWidth": 4}, "encoding": {"x": {"datum": 0.3, "axis": null}, "x2": {"datum": 13.27}, "y": {"datum": 2.099, "axis": null}, "y2": {"datum": 1.894}}},
    {"mark": {"type": "text", "text": "Neutrino", "font": "Lato", "fontSize": 40, "color": "#2a7b5b", "align": "center", "baseline": "middle"}, "encoding": {"x": {"datum": 6.72, "axis": null}, "y": {"datum": 2.036, "axis": null}}},
    {"mark": {"type": "text", "text": "Physics", "font": "Lato", "fontSize": 40, "color": "#2a7b5b", "align": "center", "baseline": "middle"}, "encoding": {"x": {"datum": 6.72, "axis": null}, "y": {"datum": 1.957, "axis": null}}},
    {"mark": {"type": "rect", "fillOpacity": 0, "stroke": "#933a91", "strokeWidth": 4}, "encoding": {"x": {"datum": -29.16, "axis": null}, "x2": {"datum": -12.64}, "y": {"datum": 1.246, "axis": null}, "y2": {"datum": 1.119}}},
    {"mark": {"type": "text", "text": "Astrophysics", "font": "Lato", "fontSize": 40, "color": "#933a91", "align": "center", "baseline": "middle"}, "encoding": {"x": {"datum": -20.9, "axis": null}, "y": {"datum": 1.183, "axis": null}}},
    {"mark": {"type": "rect", "fillOpacity": 0, "stroke": "#d7192d", "strokeWidth": 4}, "encoding": {"x": {"datum": -50.72, "axis": null}, "x2": {"datum": -36.18}, "y": {"datum": 1.038, "axis": null}, "y2": {"datum": 0.914}}},
    {"mark": {"type": "text", "text": "Cosmology", "font": "Lato", "fontSize": 40, "color": "#d7192d", "align": "center", "baseline": "middle"}, "encoding": {"x": {"datum": -43.45, "axis": null}, "y": {"datum": 0.974, "axis": null}}},
    {"mark": {"type": "rect", "fillOpacity": 0, "stroke": "#1a8bb5", "strokeWidth": 4}, "encoding": {"x": {"datum": -25.82, "axis": null}, "x2": {"datum": -12.98}, "y": {"datum": 0.851, "axis": null}, "y2": {"datum": 0.562}}},
    {"mark": {"type": "text", "text": ["Uncertainty", "due to the", "SFR"], "lineHeight": 56, "font": "Lato", "fontSize": 40, "color": "#1a8bb5", "align": "center", "baseline": "middle"}, "encoding": {"x": {"datum": -19.4, "axis": null}, "y": {"datum": 0.783, "axis": null}}},

    {"mark": {"type": "rect", "fill": "#000", "opacity": 0.035, "cornerRadius": 16}, "encoding": {"x": {"datum": -41.75, "axis": null}, "x2": {"datum": -22.25}, "y": {"datum": 0.072, "axis": null}, "y2": {"datum": 0.283}}},
    {"mark": {"type": "rect", "fill": "#000", "opacity": 0.05, "cornerRadius": 10}, "encoding": {"x": {"datum": -41.5, "axis": null}, "x2": {"datum": -22.5}, "y": {"datum": 0.085, "axis": null}, "y2": {"datum": 0.277}}},
    {"mark": {"type": "rect", "fill": "#000", "opacity": 0.07, "cornerRadius": 5}, "encoding": {"x": {"datum": -41.3, "axis": null}, "x2": {"datum": -22.7}, "y": {"datum": 0.097, "axis": null}, "y2": {"datum": 0.272}}},
    {"mark": {"type": "rect", "fill": "#12989a"}, "encoding": {"x": {"datum": -41.08, "axis": null}, "x2": {"datum": -22.91}, "y": {"datum": 0.109, "axis": null}, "y2": {"datum": 0.269}}},
    {"mark": {"type": "text", "text": "Oscillations?", "font": "Lato", "fontSize": 58, "color": "white", "align": "center", "baseline": "middle"}, "encoding": {"x": {"datum": -32.0, "axis": null}, "y": {"datum": 0.188, "axis": null}}},

    {"mark": {"type": "rule", "color": "#1687b0", "strokeWidth": 4}, "encoding": {"x": {"datum": 5.2, "axis": null}, "x2": {"datum": -12.76}, "y": {"datum": 0.504, "axis": null}, "y2": {"datum": 0.661}}},
    {"mark": {"type": "point", "shape": "M -1 -0.7 L 0 0 L -1 0.7", "size": 1800, "filled": false, "stroke": "#1687b0", "strokeWidth": 4, "opacity": 1, "angle": 194.4}, "encoding": {"x": {"datum": -12.76, "axis": null}, "y": {"datum": 0.661, "axis": null}}},
    {"mark": {"type": "point", "shape": "circle", "size": 12100, "filled": false, "stroke": "#1687b0", "strokeWidth": 5, "opacity": 1}, "encoding": {"x": {"datum": 7.72, "axis": null}, "y": {"datum": 0.488, "axis": null}}}
  ]
}
